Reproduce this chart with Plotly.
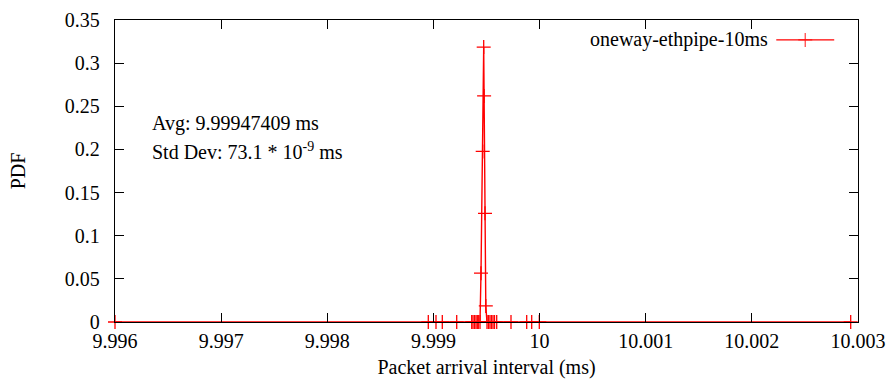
import plotly.graph_objects as go

# Packet arrival interval samples (ms) and their estimated PDF values
interval_ms = [
    9.996,
    9.9989517, 9.9990242, 9.9990836, 9.9992193,
    9.9993606, 9.9993728, 9.9993870, 9.9994011, 9.9994133, 9.9994227,
    9.9994389,
    9.9994482, 9.9994642, 9.9994736, 9.9994774, 9.9994859, 9.9994934,
    9.9995047, 9.9995189, 9.9995330, 9.9995471, 9.9995613, 9.9995754, 9.9995961,
    9.9997308, 9.9998787, 9.9999258, 9.9999974,
    10.0029312,
]
pdf = [
    0.0,
    0.0, 0.0, 0.0, 0.0,
    0.0, 0.0, 0.0, 0.0, 0.0, 0.0,
    0.0,
    0.0566, 0.1977, 0.3186, 0.2620, 0.1260, 0.0186,
    0.0, 0.0, 0.0, 0.0, 0.0, 0.0, 0.0,
    0.0, 0.0, 0.0, 0.0,
    0.0,
]

series_name = "oneway-ethpipe-10ms"
x_ticks = [9.996, 9.997, 9.998, 9.999, 10.0, 10.001, 10.002, 10.003]
x_tick_text = ["9.996", "9.997", "9.998", "9.999", "10", "10.001", "10.002", "10.003"]
y_ticks = [0, 0.05, 0.1, 0.15, 0.2, 0.25, 0.3, 0.35]
y_tick_text = ["0", "0.05", "0.1", "0.15", "0.2", "0.25", "0.3", "0.35"]

avg_text = "Avg: 9.99947409 ms"
std_text = "Std Dev: 73.1 * 10<sup>-9</sup> ms"

FONT = "Liberation Serif"
FS = 20
RED = "#ff0000"

fig = go.Figure()
fig.add_trace(go.Scatter(
    x=interval_ms, y=pdf, mode="lines+markers", name=series_name,
    line=dict(color=RED, width=1.4),
    marker=dict(symbol="cross-thin", size=10, color=RED,
                line=dict(color=RED, width=1.3)),
    showlegend=False, cliponaxis=False,
))

# Legend sample drawn on an overlay axis spanning the plot area (0..1)
fig.add_trace(go.Scatter(
    x=[0.890, 0.929, 0.968], y=[0.934, 0.934, 0.934],
    xaxis="x2", yaxis="y2", mode="lines+markers",
    line=dict(color=RED, width=1.3),
    marker=dict(symbol="cross-thin", size=[0, 10, 0], color=RED,
                line=dict(color=RED, width=1.3)),
    showlegend=False, hoverinfo="skip",
))

axis_common = dict(
    showgrid=False, zeroline=False, showline=True, linecolor="black",
    linewidth=1.3, mirror="allticks", ticks="inside", ticklen=9,
    tickcolor="black", tickwidth=1.3, automargin=False,
    tickfont=dict(family=FONT, size=FS, color="black"),
)

fig.update_layout(
    width=891, height=383,
    margin=dict(l=115, r=33, t=20, b=61),
    paper_bgcolor="white", plot_bgcolor="white",
    font=dict(family=FONT, size=FS, color="black"),
    xaxis=dict(range=[9.996, 10.003], tickvals=x_ticks, ticktext=x_tick_text,
               ticklabelstandoff=1,
               title=dict(text="Packet arrival interval (ms)", standoff=8,
                          font=dict(family=FONT, size=FS)),
               **axis_common),
    yaxis=dict(range=[0, 0.35], tickvals=y_ticks, ticktext=y_tick_text,
               ticklabelstandoff=10,
               title=dict(text="PDF", standoff=33,
                          font=dict(family=FONT, size=FS)),
               **axis_common),
    xaxis2=dict(overlaying="x", range=[0, 1], visible=False, fixedrange=True),
    yaxis2=dict(overlaying="y", range=[0, 1], visible=False, fixedrange=True),
    annotations=[
        dict(text=avg_text, x=0.047, y=0.658, xref="paper", yref="paper",
             xanchor="left", yanchor="middle", showarrow=False,
             font=dict(family=FONT, size=FS)),
        dict(text=std_text, x=0.047, y=0.566, xref="paper", yref="paper",
             xanchor="left", yanchor="middle", showarrow=False,
             font=dict(family=FONT, size=FS)),
        dict(text=series_name, x=0.881, y=0.934, xref="paper", yref="paper",
             xanchor="right", yanchor="middle", showarrow=False,
             font=dict(family=FONT, size=FS)),
    ],
)

fig.write_html("out.html")
